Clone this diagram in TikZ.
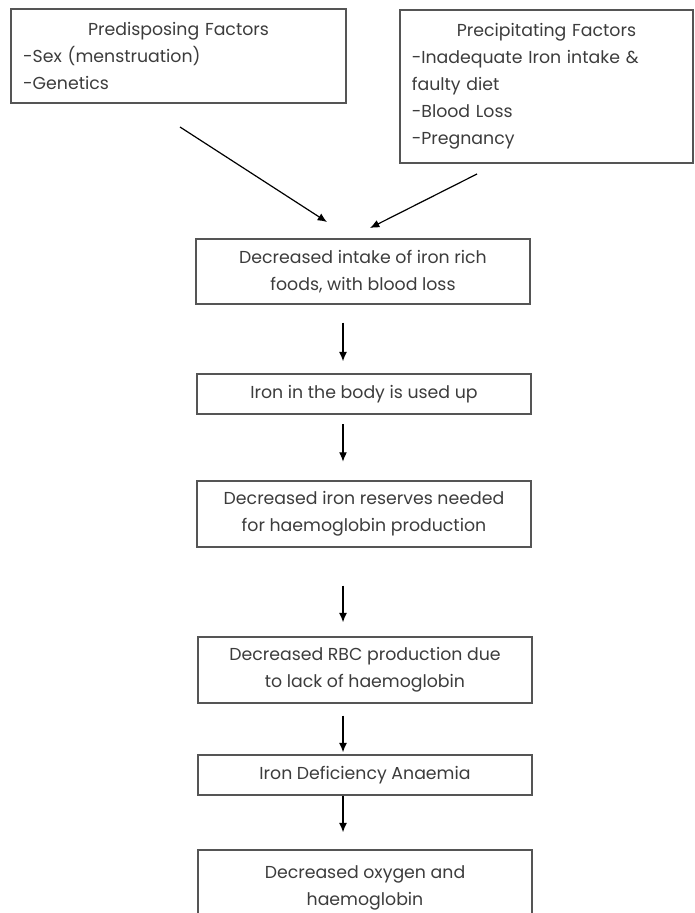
\documentclass[tikz,border=0pt]{standalone}
\usepackage{fontspec}
\setmainfont{Poppins}
\usetikzlibrary{positioning,arrows.meta}
\definecolor{boxline}{HTML}{555555}
\definecolor{boxtext}{HTML}{3C3C3C}

\begin{document}
\begin{tikzpicture}[x=0.75pt,y=-0.75pt,
  every node/.style={font=\fontsize{13}{20.25}\selectfont, text=boxtext},
  factor/.style={draw=boxline,line width=1.1pt,align=left,inner sep=0pt},
  stage/.style={draw=boxline,line width=1.1pt,align=center,inner sep=0pt,minimum width=250.5pt},
  flow/.style={-{Latex[length=7pt,width=6pt]},line width=0.9pt}]
\useasboundingbox (0,0) rectangle (695,913);
\clip (0,0) rectangle (695,913);

% causes
\node[factor,text width=233pt,minimum width=251.25pt,minimum height=70.5pt] (predis) at (178.5,56)
  {\makebox[\linewidth]{Predisposing Factors}\\-Sex (menstruation)\\-Genetics};
\node[factor,text width=202pt,minimum width=219.75pt,minimum height=114.75pt] (precip) at (546.5,86.5)
  {\makebox[\linewidth]{Precipitating Factors}\\-Inadequate Iron intake \&\\faulty diet\\-Blood Loss\\-Pregnancy};

% chain of stages
\node[stage,minimum height=48.75pt] (intake) at (363,271.5) {Decreased intake of iron rich\\foods, with blood loss};
\node[stage,minimum height=30pt] (usedup) at (364,394) {Iron in the body is used up};
\node[stage,minimum height=49.5pt] (reserves) at (364,514) {Decreased iron reserves needed\\for haemoglobin production};
\node[stage,minimum height=49.5pt] (rbc) at (365,670) {Decreased RBC production due\\to lack of haemoglobin};
\node[stage,minimum height=30pt] (ida) at (365,775) {Iron Deficiency Anaemia};
\node[stage,minimum height=56.25pt] (oxygen) at (365,887.5) {Decreased oxygen and\\haemoglobin};

\coordinate (predisout) at (180,127);
\coordinate (precipout) at (477,174);
\coordinate (leftin) at (327,222);
\coordinate (rightin) at (370,228);
\coordinate (ax) at (343,0);

\draw[flow] (predisout) -- (leftin);
\draw[flow] (precipout) -- (rightin);
\draw[flow,shorten <=13.5pt,shorten >=9pt] (intake.south -| ax) -- (usedup.north -| ax);
\draw[flow,shorten <=7pt,shorten >=14pt] (usedup.south -| ax) -- (reserves.north -| ax);
\draw[flow,shorten <=28.5pt,shorten >=10.5pt] (reserves.south -| ax) -- (rbc.north -| ax);
\draw[flow,shorten <=9pt,shorten >=1.5pt] (rbc.south -| ax) -- (ida.north -| ax);
\draw[flow,shorten <=0pt,shorten >=12.75pt] (ida.south -| ax) -- (oxygen.north -| ax);
\end{tikzpicture}
\end{document}
